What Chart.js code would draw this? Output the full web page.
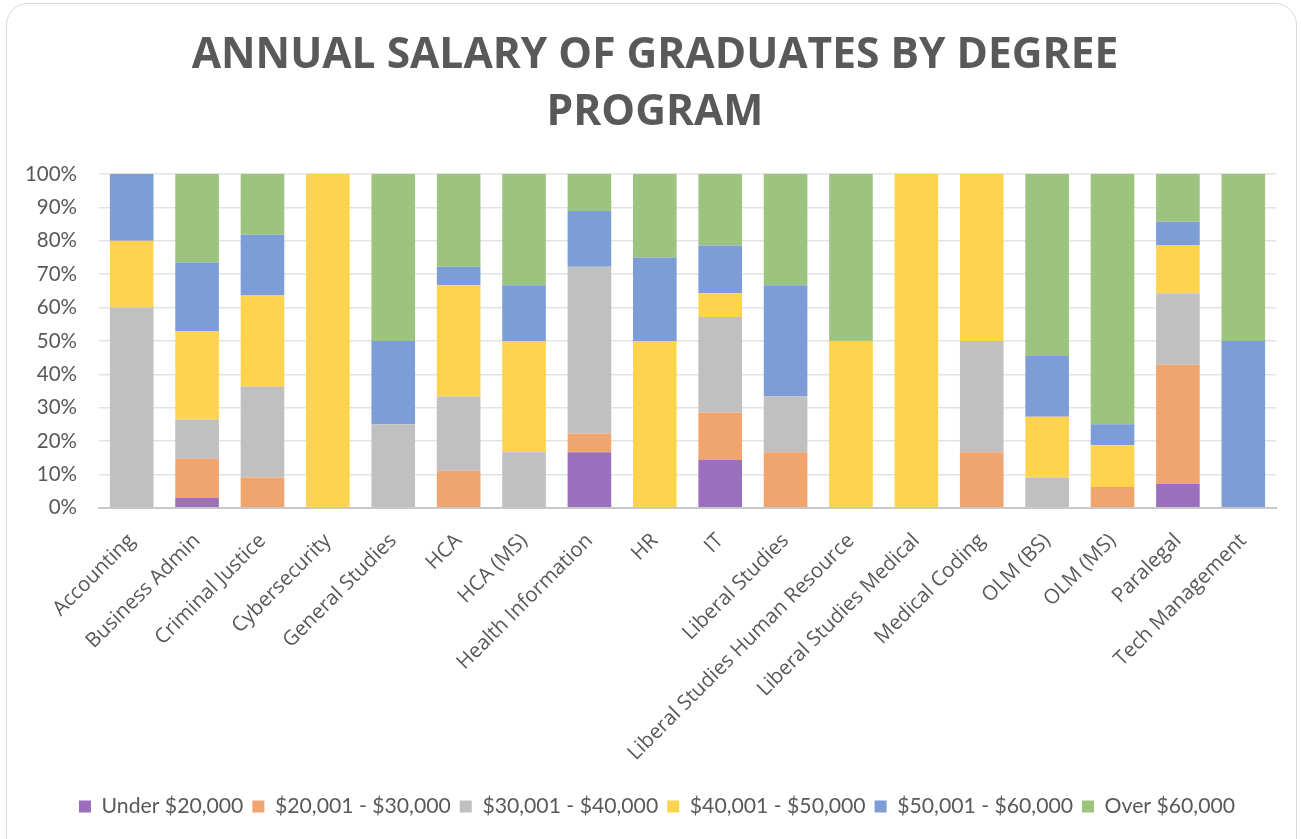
<!DOCTYPE html>
<html>
<head>
<meta charset="utf-8">
<script src="https://cdn.jsdelivr.net/npm/chart.js@4/dist/chart.umd.min.js"></script>
<style>
  html, body { margin: 0; padding: 0; background: #ffffff; }
  #frame { position: absolute; left: 6px; top: 3px; width: 1291px; height: 870px;
           border: 1.5px solid #d9d9d9; border-radius: 22px; box-sizing: border-box; }
  #c { position: absolute; left: 0; top: 0; }
  #title { position: absolute; left: 0; top: 23px; width: 1310px; text-align: center;
           font-family: 'Open Sans', sans-serif; font-weight: bold; font-size: 42.5px;
           line-height: 57px; color: #595959; white-space: nowrap; }
</style>
</head>
<body>
<div id="frame"></div>
<canvas id="c" width="1301" height="839"></canvas>
<div id="title">ANNUAL SALARY OF GRADUATES BY DEGREE<br>PROGRAM</div>
<script>
const categories = ['Accounting','Business Admin','Criminal Justice','Cybersecurity','General Studies','HCA','HCA (MS)','Health Information','HR','IT','Liberal Studies','Liberal Studies Human Resource','Liberal Studies Medical','Medical Coding','OLM (BS)','OLM (MS)','Paralegal','Tech Management'];
const seriesNames = ['Under $20,000','$20,001 - $30,000','$30,001 - $40,000','$40,001 - $50,000','$50,001 - $60,000','Over $60,000'];
const under20 = [0, 2.94, 0, 0, 0, 0, 0, 16.67, 0, 14.29, 0, 0, 0, 0, 0, 0, 7.14, 0];
const s20to30 = [0, 11.76, 9.09, 0, 0, 11.11, 0, 5.56, 0, 14.29, 16.67, 0, 0, 16.67, 0, 6.25, 35.71, 0];
const s30to40 = [60, 11.76, 27.27, 0, 25, 22.22, 16.67, 50, 0, 28.57, 16.67, 0, 0, 33.33, 9.09, 0, 21.43, 0];
const s40to50 = [20, 26.47, 27.27, 100, 0, 33.33, 33.33, 0, 50, 7.14, 0, 50, 100, 50, 18.18, 12.5, 14.29, 0];
const s50to60 = [20, 20.59, 18.18, 0, 25, 5.56, 16.67, 16.67, 25, 14.29, 33.33, 0, 0, 0, 18.18, 6.25, 7.14, 50];
const over60 = [0, 26.47, 18.18, 0, 50, 27.78, 33.33, 11.11, 25, 21.43, 33.33, 50, 0, 0, 54.55, 75, 14.29, 50];
const yTicks = [0,10,20,30,40,50,60,70,80,90,100];

const colors = ['#9A6FBC','#F0A46E','#C0C0C0','#FED44F','#7C9DD5','#9DC47E'];
const values = [under20, s20to30, s30to40, s40to50, s50to60, over60];
const FONT = 'Lato';
const TXT = '#595959';

const shiftLegend = {
  id: 'shiftLegend',
  afterLayout(chart) {
    if (chart.legend) { chart.legend.left += 38; }
  }
};

new Chart(document.getElementById('c'), {
  type: 'bar',
  data: {
    labels: categories,
    datasets: values.map((v, i) => ({
      label: seriesNames[i],
      data: v,
      backgroundColor: colors[i],
      borderWidth: 0,
      barPercentage: 0.667,
      categoryPercentage: 1.0
    }))
  },
  plugins: [shiftLegend],
  options: {
    responsive: false,
    animation: false,
    devicePixelRatio: 1,
    layout: { padding: { left: 0, right: 25, top: 174, bottom: 12 } },
    plugins: {
      tooltip: { enabled: false },
      title: { display: false },
      legend: {
        position: 'bottom',
        labels: {
          color: TXT,
          font: { family: FONT, size: 21.2 },
          boxWidth: 12, boxHeight: 12,
          padding: 9
        }
      }
    },
    scales: {
      x: {
        stacked: true,
        grid: { display: false },
        border: { color: '#c8c8c8', width: 2 },
        ticks: {
          color: TXT,
          font: { family: 'Open Sans', size: 20.5 },
          minRotation: 45, maxRotation: 45,
          autoSkip: false,
          padding: 13
        },
        afterFit: (s) => { s.height = 279; }
      },
      y: {
        stacked: true,
        min: 0, max: 100,
        afterBuildTicks: (s) => { s.ticks = yTicks.map(v => ({ value: v })); },
        grid: { color: '#e3e3e3', lineWidth: 1.5, drawTicks: false },
        border: { display: false },
        ticks: {
          color: TXT,
          font: { family: FONT, size: 20.5 },
          padding: 22,
          callback: (v) => v + '%'
        },
        afterFit: (s) => { s.width = 99; }
      }
    }
  }
});
</script>
</body>
</html>
